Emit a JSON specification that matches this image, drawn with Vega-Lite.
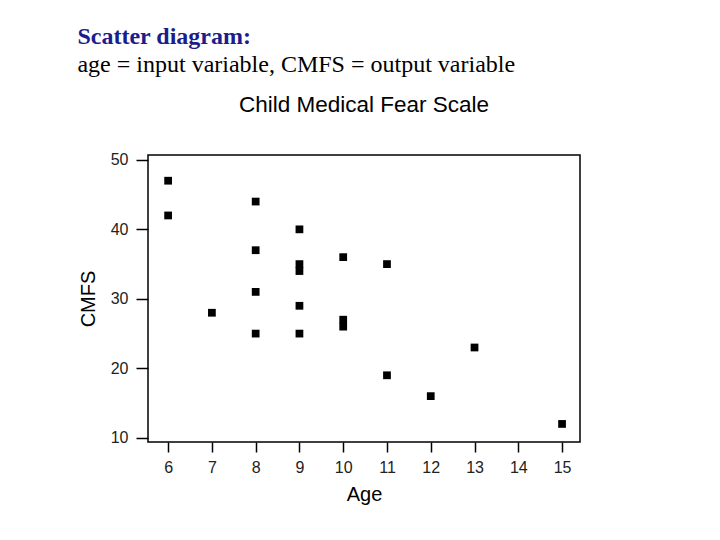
{
  "$schema": "https://vega.github.io/schema/vega-lite/v6.json",
  "background": "white",
  "padding": {"left": 77, "top": 24, "right": 10, "bottom": 10},
  "title": {
    "text": "Scatter diagram:",
    "subtitle": "age = input variable, CMFS = output variable",
    "anchor": "start",
    "frame": "bounds",
    "font": "Liberation Serif",
    "fontSize": 24,
    "fontWeight": "bold",
    "color": "#1c1c8c",
    "subtitleFont": "Liberation Serif",
    "subtitleFontSize": 24,
    "subtitleFontWeight": "normal",
    "subtitleColor": "black",
    "subtitlePadding": 4,
    "offset": 17
  },
  "vconcat": [
    {
      "width": 432,
      "height": 287,
      "title": {
        "text": "Child Medical Fear Scale",
        "font": "Liberation Sans",
        "fontSize": 22.5,
        "fontWeight": "normal",
        "color": "black",
        "anchor": "middle",
        "frame": "group",
        "offset": 35
      },
      "data": {
        "values": [
          {"Age": 6, "CMFS": 47},
          {"Age": 6, "CMFS": 42},
          {"Age": 7, "CMFS": 28},
          {"Age": 8, "CMFS": 44},
          {"Age": 8, "CMFS": 37},
          {"Age": 8, "CMFS": 31},
          {"Age": 8, "CMFS": 25},
          {"Age": 9, "CMFS": 40},
          {"Age": 9, "CMFS": 35},
          {"Age": 9, "CMFS": 34},
          {"Age": 9, "CMFS": 29},
          {"Age": 9, "CMFS": 25},
          {"Age": 10, "CMFS": 36},
          {"Age": 10, "CMFS": 27},
          {"Age": 10, "CMFS": 26},
          {"Age": 11, "CMFS": 35},
          {"Age": 11, "CMFS": 19},
          {"Age": 12, "CMFS": 16},
          {"Age": 13, "CMFS": 23},
          {"Age": 15, "CMFS": 12}
        ]
      },
      "mark": {"type": "point", "shape": "square", "filled": true, "size": 60, "color": "black", "opacity": 1},
      "encoding": {
        "x": {
          "field": "Age",
          "type": "quantitative",
          "scale": {"domain": [5.54, 15.41], "nice": false, "zero": false},
          "axis": {
            "values": [6, 7, 8, 9, 10, 11, 12, 13, 14, 15],
            "title": "Age",
            "domain": false,
            "grid": false,
            "tickSize": 10,
            "tickWidth": 1.5,
            "tickColor": "black",
            "labelPadding": 7,
            "labelFont": "Liberation Sans",
            "labelFontSize": 16,
            "labelColor": "#222222",
            "titleFont": "Liberation Sans",
            "titleFontSize": 20,
            "titleFontWeight": "normal",
            "titleColor": "black",
            "titlePadding": 9
          }
        },
        "y": {
          "field": "CMFS",
          "type": "quantitative",
          "scale": {"domain": [9.4, 50.7], "nice": false, "zero": false},
          "axis": {
            "values": [10, 20, 30, 40, 50],
            "title": "CMFS",
            "domain": false,
            "grid": false,
            "tickSize": 12,
            "tickWidth": 1.5,
            "tickColor": "black",
            "labelPadding": 8,
            "labelFont": "Liberation Sans",
            "labelFontSize": 16,
            "labelColor": "#222222",
            "titleFont": "Liberation Sans",
            "titleFontSize": 20,
            "titleFontWeight": "normal",
            "titleColor": "black",
            "titlePadding": 12
          }
        }
      }
    }
  ],
  "config": {
    "view": {"stroke": "black", "strokeWidth": 1.5},
    "concat": {"spacing": 0}
  }
}
